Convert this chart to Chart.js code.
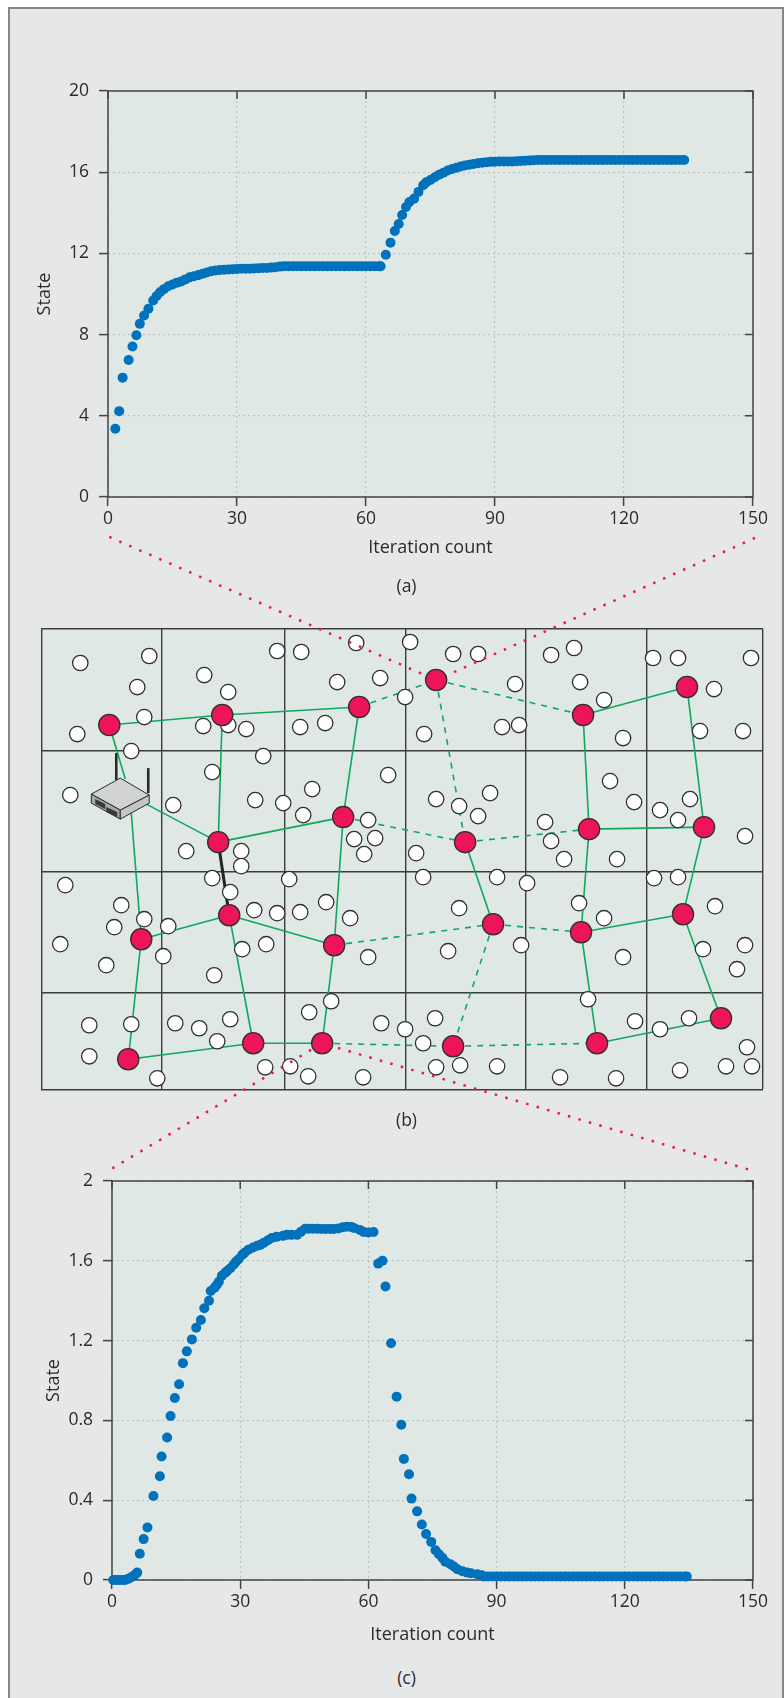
<!DOCTYPE html>
<html>
<head>
<meta charset="utf-8">
<script src="https://cdn.jsdelivr.net/npm/chart.js@4"></script>
<style>
html, body { margin: 0; padding: 0; background: #fff; }
#page { position: absolute; left: 8px; top: 7px; width: 772px; height: 1691px; background: #e6e7e9;
	border: 2px solid #858585; border-bottom: none; }
canvas { position: absolute; left: 0; }
.caption { position: absolute; left: 0; width: 813px; text-align: center; font: 17.5px "Open Sans"; color: #2b2b2b; }
</style>
</head>
<body>
<div id="page"></div>
<canvas id="chartA" width="784" height="520" style="top:41px"></canvas>
<canvas id="chartC" width="784" height="518" style="top:1130px"></canvas>
<canvas id="chartB" width="784" height="650" style="top:530px"></canvas>
<div class="caption" style="top:573px">(a)</div>
<div class="caption" style="top:1107px">(b)</div>
<div class="caption" style="top:1665px">(c)</div>

<script>
// panel (a)
const iterationsA = [
	1.7,2.6,3.4,4.8,5.7,6.6,7.4,8.4,9.4,10.5,
	11.3,12.1,13,14,15,16,17,18,19,20,
	21,22,23,24,25,26,27,28,29,30,
	31,32,33,34,35,36,37,38,39,40,
	41,42,43,44,45,46,47,48,49,50,
	51,52,53,54,55,56,57,58,59,60,
	61,62,63,63.4,64.6,65.7,66.7,67.6,68.4,69.3,
	70.1,71.2,72.2,73.3,74,75,76,77,78,79,
	80,81,82,83,84,85,86,87,88,89,
	90,91,92,93,94,95,96,97,98,99,
	100,101,102,103,104,105,106,107,108,109,
	110,111,112,113,114,115,116,117,118,119,
	120,121,122,123,124,125,126,127,128,129,
	130,131,132,133,134
];
const stateA = [
	3.36,4.23,5.88,6.75,7.41,7.97,8.53,8.94,9.27,9.68,
	9.9,10.09,10.24,10.38,10.47,10.56,10.62,10.72,10.82,10.88,
	10.93,11,11.06,11.12,11.16,11.18,11.2,11.21,11.22,11.23,
	11.24,11.25,11.25,11.26,11.27,11.28,11.28,11.3,11.32,11.35,
	11.37,11.37,11.37,11.37,11.37,11.37,11.37,11.37,11.37,11.37,
	11.37,11.37,11.37,11.37,11.37,11.37,11.37,11.37,11.37,11.37,
	11.37,11.37,11.37,11.37,11.93,12.53,13.1,13.45,13.89,14.29,
	14.53,14.7,15.03,15.36,15.5,15.62,15.75,15.87,15.97,16.08,
	16.16,16.22,16.28,16.33,16.37,16.41,16.44,16.47,16.49,16.51,
	16.52,16.53,16.53,16.53,16.53,16.54,16.55,16.57,16.58,16.59,
	16.6,16.6,16.6,16.6,16.6,16.6,16.6,16.6,16.6,16.6,
	16.6,16.6,16.6,16.6,16.6,16.6,16.6,16.6,16.6,16.6,
	16.6,16.6,16.6,16.6,16.6,16.6,16.6,16.6,16.6,16.6,
	16.6,16.6,16.6,16.6,16.6
];

// panel (c)
const iterationsC = [
	0.3,1,1.7,2.4,3,3.4,4,4.6,5.3,5.9,
	6.5,7.4,8.3,9.7,11.2,11.6,12.9,13.7,14.7,15.7,
	16.6,17.5,18.7,19.7,20.8,21.6,22.7,23.1,24,24.5,
	25,25.7,26.5,27,27.7,28.5,29,29.6,30.5,31,
	31.9,33,34,34.7,35.5,36.5,37.4,38.5,40,40.9,
	42,43.3,44.2,45.2,46,47,48,49,50,51,
	51.9,53,54,55,56,56.6,58,58.9,60,61.2,
	62.3,63.3,64,65.3,66.6,67.7,68.3,69.5,70.1,71.4,
	72.5,73.5,74.7,75.7,76.5,77.3,78,79.2,80,80.8,
	82,83.1,84,85.5,86.5,87,88,89,90,91,
	92,93,94,95,96,97,98,99,100,101,
	102,103,104,105,106,107,108,109,110,111,
	112,113,114,115,116,117,118,119,120,121,
	122,123,124,125,126,127,128,129,130,131,
	132,133,134,134.5
];
const stateC = [
	0,0,0,0,0,0.003,0.008,0.015,0.025,0.037,
	0.132,0.205,0.263,0.421,0.52,0.619,0.714,0.822,0.912,0.981,
	1.087,1.146,1.206,1.264,1.303,1.362,1.4,1.449,1.465,1.479,
	1.495,1.525,1.54,1.55,1.563,1.582,1.595,1.608,1.63,1.64,
	1.655,1.667,1.675,1.68,1.69,1.703,1.714,1.72,1.725,1.73,
	1.73,1.73,1.745,1.761,1.761,1.761,1.761,1.76,1.76,1.76,
	1.76,1.762,1.768,1.771,1.77,1.765,1.755,1.744,1.742,1.744,
	1.586,1.6,1.471,1.187,0.919,0.778,0.607,0.53,0.408,0.344,
	0.278,0.231,0.191,0.149,0.129,0.112,0.092,0.079,0.068,0.054,
	0.044,0.037,0.034,0.029,0.024,0.018,0.018,0.018,0.018,0.018,
	0.018,0.018,0.018,0.018,0.018,0.018,0.018,0.018,0.018,0.018,
	0.018,0.018,0.018,0.018,0.018,0.018,0.018,0.018,0.018,0.018,
	0.018,0.018,0.018,0.018,0.018,0.018,0.018,0.018,0.018,0.018,
	0.018,0.018,0.018,0.018,0.018,0.018,0.018,0.018,0.018,0.018,
	0.018,0.018,0.018,0.018
];

const xTicks = [0, 30, 60, 90, 120, 150];
const yTicksA = [0, 4, 8, 12, 16, 20];
const yTicksC = [0, 0.4, 0.8, 1.2, 1.6, 2];

// panel (b), field units
const cellEdgesX = [0, 120, 244, 365, 485, 606, 722];
const cellEdgesY = [0, 122, 243, 363, 460];

const sensors = [
	[39,34],[108,27],[96,58],[103,88],[36,105],[90,122],[163,46],[187,63],[187,96],[162,97],[205,100],
	[236,22],[260,23],[296,53],[339,49],[315,14],[284,94],[259,98],[222,127],[171,143],[29,166],
	[132,176],[214,171],[242,174],[271,160],[262,186],[347,146],[327,191],[313,210],[334,209],[323,225],
	[145,222],[200,222],[200,237],[171,249],[248,250],[24,256],[80,276],[73,298],[103,290],[127,297],
	[19,315],[65,336],[122,327],[173,346],[189,263],[213,281],[236,284],[259,283],[285,273],[309,289],
	[201,320],[225,315],[327,328],[48,396],[90,395],[134,394],[158,399],[189,390],[176,412],[48,427],
	[116,449],[224,438],[249,437],[267,447],[268,383],[290,372],[340,394],[322,448],[364,400],[369,13],
	[412,25],[437,25],[510,26],[533,19],[474,55],[539,53],[563,71],[364,68],[383,105],[461,98],
	[478,96],[582,109],[612,29],[637,29],[710,29],[673,60],[659,102],[702,102],[569,152],[593,173],
	[395,170],[418,177],[449,164],[437,187],[375,224],[504,193],[510,212],[523,230],[576,230],[619,181],
	[649,170],[637,191],[704,207],[382,248],[456,248],[486,254],[613,249],[637,248],[418,279],[538,274],
	[563,289],[674,277],[407,322],[480,316],[582,328],[662,320],[704,316],[696,340],[547,370],[394,389],
	[382,414],[594,392],[648,389],[619,400],[706,418],[395,438],[419,436],[456,437],[519,448],[575,449],
	[639,441],[685,437],[711,437]
];
const meshNodes = [
	[68,96],[181,86],[318,78],[395,51],[542,86],[646,58],
	[177,213],[302,188],[424,213],[548,200],[663,198],
	[100,310],[188,286],[293,316],[452,295],[540,303],[642,285],
	[87,430],[212,414],[281,414],[412,417],[556,414],[680,389]
];
const solidLinks = [
	[0,1],[1,2],[4,5],[1,6],[2,7],[6,7],[4,9],[5,10],[9,10],[7,13],[8,14],[9,15],[10,16],
	[11,12],[12,13],[15,16],[11,17],[12,18],[13,19],[15,21],[16,22],[17,18],[18,19],[21,22]
];
const dashedLinks = [[2,3],[3,4],[3,8],[7,8],[8,9],[13,14],[14,15],[14,20],[19,20],[20,21]];
const heavyLinks = [[6,12]];
const routerLinks = [[[68,96],[84,150]], [[90,184],[100,310]], [[105,175],[177,213]]];
const zoomLines = [
	[[68,-92],[395,51]], [[714,-91],[395,51]],
	[[71,539],[281,414]], [[707,540],[281,414]]
];
const routerTop = [[79,149],[108,166],[79,181],[50,165]];
const routerLeft = [[50,165],[79,181],[79,190],[50,174]];
const routerRight = [[79,181],[108,166],[108,174],[79,190]];
const routerVents = [
	[[54,170],[64,175],[64,180],[54,175]],
	[[65,178],[76,183],[76,188],[65,183]]
];
const routerAntennas = [[[75,124],[75,151]], [[107,139],[107,164]]];

const TEXT = '#2b2b2b';
const AXIS = '#444444';
const GRID = '#bcc5c2';
const PLOT_BG = '#dfe8e5';
const FONT = '"Open Sans"';

// plot background, frame, and the inward ticks on the top and right sides
const plotFrame = {
	id: 'plotFrame',
	beforeDraw(chart) {
		const a = chart.chartArea, c = chart.ctx;
		c.save();
		c.fillStyle = PLOT_BG;
		c.fillRect(a.left, a.top, a.right - a.left, a.bottom - a.top);
		c.restore();
	},
	beforeDatasetsDraw(chart) {
		if (chart.canvas.id === 'chartB') return;
		const a = chart.chartArea, c = chart.ctx;
		c.save();
		c.strokeStyle = AXIS;
		c.lineWidth = 1.5;
		c.strokeRect(a.left, a.top, a.right - a.left, a.bottom - a.top);
		c.beginPath();
		chart.scales.x.ticks.forEach(function(t) {
			const px = chart.scales.x.getPixelForValue(t.value);
			c.moveTo(px, a.top);
			c.lineTo(px, a.top + 8);
		});
		chart.scales.y.ticks.forEach(function(t) {
			const py = chart.scales.y.getPixelForValue(t.value);
			c.moveTo(a.right, py);
			c.lineTo(a.right - 8, py);
		});
		c.stroke();
		c.restore();
	}
};

function makeStateChart(id, xs, ys, yTicks, yWidth, leftPad, xHeight) {
	return new Chart(document.getElementById(id), {
		type: 'scatter',
		data: {
			datasets: [{
				data: xs.map(function(x, i) { return {x: x, y: ys[i]}; }),
				backgroundColor: '#0071bb',
				borderWidth: 0,
				pointRadius: 5,
				clip: false
			}]
		},
		options: {
			responsive: false,
			animation: false,
			layout: {padding: {left: leftPad, top: id === 'chartA' ? 50 : 51, right: 31, bottom: 2}},
			plugins: {legend: {display: false}, tooltip: {enabled: false}},
			scales: {
				x: {
					type: 'linear', min: 0, max: 150,
					afterBuildTicks: function(s) { s.ticks = xTicks.map(function(v) { return {value: v}; }); },
					afterFit: function(s) { s.height = xHeight; },
					ticks: {color: TEXT, font: {family: FONT, size: 17.5}, padding: 3, maxRotation: 0,
						callback: function(v) { return String(v); }},
					grid: {color: GRID, lineWidth: 1.2, tickColor: AXIS, tickLength: 9, tickWidth: 1.5},
					border: {display: false, dash: [2, 3]},
					title: {display: true, text: 'Iteration count', color: TEXT, font: {family: FONT, size: 18}, padding: 0}
				},
				y: {
					type: 'linear', min: 0, max: yTicks[yTicks.length - 1],
					afterBuildTicks: function(s) { s.ticks = yTicks.map(function(v) { return {value: v}; }); },
					afterFit: function(s) { s.width = yWidth; },
					ticks: {color: TEXT, font: {family: FONT, size: 17.5}, padding: 10,
						callback: function(v) { return String(v); }},
					grid: {color: GRID, lineWidth: 1.2, tickColor: AXIS, tickLength: 9, tickWidth: 1.5},
					border: {display: false, dash: [2, 3]},
					title: {display: true, text: 'State', color: TEXT, font: {family: FONT, size: 18}, padding: 0}
				}
			}
		},
		plugins: [plotFrame]
	});
}

makeStateChart('chartA', iterationsA, stateA, yTicksA, 74, 34, 62);
makeStateChart('chartC', iterationsC, stateC, yTicksC, 69, 43, 66);

function toPoints(list) {
	return list.map(function(p) { return {x: p[0], y: p[1]}; });
}
function linkSet(pair, color, width, dash) {
	return {
		type: 'line', data: toPoints(pair), borderColor: color, borderWidth: width, borderDash: dash,
		pointRadius: 0, tension: 0, fill: false, order: 3
	};
}
const GREEN = '#0fa85f';
const RED = '#ee1459';
const linkDatasets = [];
solidLinks.forEach(function(l) { linkDatasets.push(linkSet([meshNodes[l[0]], meshNodes[l[1]]], GREEN, 1.6, [])); });
dashedLinks.forEach(function(l) { linkDatasets.push(linkSet([meshNodes[l[0]], meshNodes[l[1]]], GREEN, 1.6, [6, 6])); });
routerLinks.forEach(function(l) { linkDatasets.push(linkSet(l, GREEN, 1.6, [])); });
heavyLinks.forEach(function(l) { linkDatasets.push(linkSet([meshNodes[l[0]], meshNodes[l[1]]], '#222222', 3, [])); });
zoomLines.forEach(function(l) {
	const d = linkSet(l, RED, 2.5, [2.5, 8.4]);
	d.order = 1;
	d.clip = false;
	linkDatasets.push(d);
});

// the little router picture, placed through the scales
const routerPicture = {
	id: 'routerPicture',
	afterDatasetsDraw(chart) {
		const c = chart.ctx, sx = chart.scales.x, sy = chart.scales.y;
		function path(list) {
			c.beginPath();
			list.forEach(function(p, i) {
				const px = sx.getPixelForValue(p[0]), py = sy.getPixelForValue(p[1]);
				if (i === 0) c.moveTo(px, py); else c.lineTo(px, py);
			});
		}
		c.save();
		c.strokeStyle = '#2a2a2a';
		c.lineCap = 'butt';
		c.lineWidth = 2.6;
		routerAntennas.forEach(function(a) { path(a); c.stroke(); });
		c.lineWidth = 1;
		c.lineJoin = 'round';
		[[routerTop, '#d1d2d4'], [routerLeft, '#a7a8aa'], [routerRight, '#c4c5c7']].forEach(function(f) {
			path(f[0]);
			c.closePath();
			c.fillStyle = f[1];
			c.fill();
			c.stroke();
		});
		routerVents.forEach(function(v) {
			path(v);
			c.closePath();
			c.fillStyle = '#3a3a3a';
			c.fill();
		});
		c.restore();
	}
};

new Chart(document.getElementById('chartB'), {
	type: 'scatter',
	data: {
		datasets: [
			{
				data: toPoints(meshNodes), backgroundColor: RED, borderColor: '#2f2f2f', borderWidth: 1.3,
				pointRadius: 10.6, order: 0
			},
			{
				data: toPoints(sensors), backgroundColor: '#ffffff', borderColor: '#2f2f2f', borderWidth: 1.3,
				pointRadius: 7.7, order: 2
			}
		].concat(linkDatasets)
	},
	options: {
		responsive: false,
		animation: false,
		layout: {padding: {left: 41.3, top: 99, right: 21, bottom: 90.7}},
		plugins: {legend: {display: false}, tooltip: {enabled: false}},
		scales: {
			x: {
				type: 'linear', min: 0, max: 722,
				afterBuildTicks: function(s) { s.ticks = cellEdgesX.map(function(v) { return {value: v}; }); },
				ticks: {display: false},
				grid: {color: '#3c3c3c', lineWidth: 1.4, drawTicks: false},
				border: {display: false}
			},
			y: {
				type: 'linear', min: 0, max: 460, reverse: true,
				afterBuildTicks: function(s) { s.ticks = cellEdgesY.map(function(v) { return {value: v}; }); },
				ticks: {display: false},
				grid: {color: '#3c3c3c', lineWidth: 1.4, drawTicks: false},
				border: {display: false}
			}
		}
	},
	plugins: [plotFrame, routerPicture]
});
</script>
</body>
</html>
